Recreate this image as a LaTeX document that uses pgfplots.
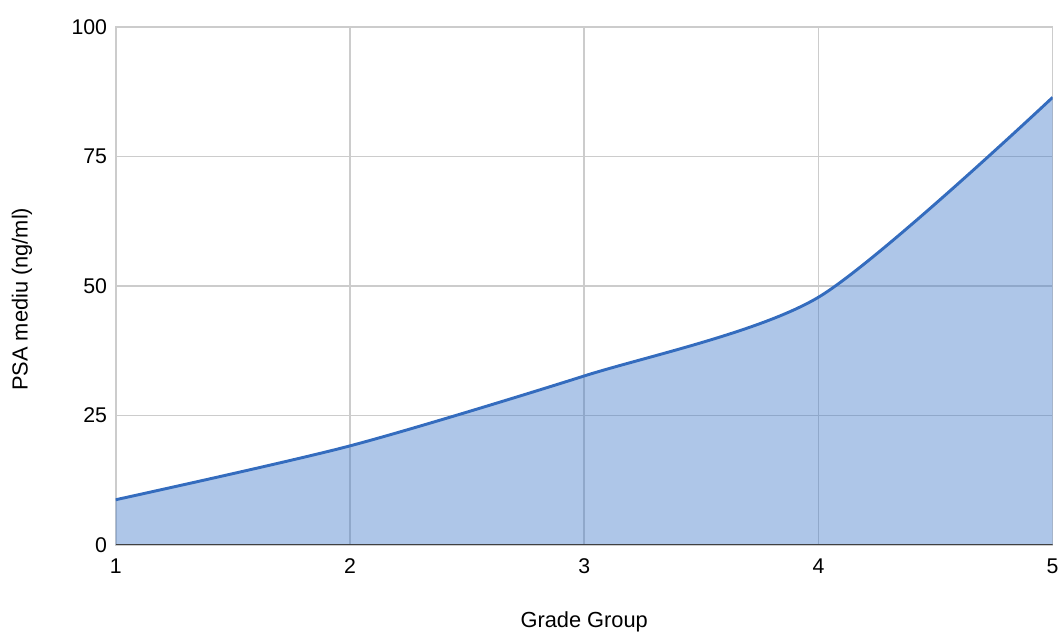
\documentclass[border=0pt]{standalone}
\usepackage{pgfplots}
\pgfplotsset{compat=1.18}
\usepackage{fontspec}
\setmainfont{Liberation Sans}
\definecolor{lineblue}{RGB}{52,108,190}
\definecolor{fillblue}{RGB}{62,120,200}
\definecolor{gridgray}{RGB}{204,204,204}
\begin{document}
\begin{tikzpicture}
\begin{axis}[
  name=ax,
  scale only axis,
  width=704.25pt, height=389.25pt,
  xmin=1, xmax=5, ymin=0, ymax=100,
  xtick={1,2,3,4,5},
  ytick={0,25,50,75,100},
  grid=major,
  major grid style={gridgray, line width=1.2pt},
  axis line style={gridgray, line width=1.2pt},
  major tick length=0pt,
  tick label style={font=\fontsize{16}{18}\selectfont},
  /pgf/number format/assume math mode=true,
  xticklabel style={anchor=base, yshift=-21.5pt},
  yticklabel style={xshift=-3pt},
  xlabel={Grade Group},
  ylabel={PSA mediu (ng/ml)},
  label style={font=\fontsize{16.4}{18}\selectfont},
  xlabel style={at={(axis description cs:0.5,-0.160)}, anchor=base},
  ylabel style={at={(axis description cs:-0.100,0.474)}, anchor=center},
]
\addplot[draw=none, fill=fillblue, fill opacity=0.42, smooth, tension=0.45] coordinates {
  (1,8.7) (2,19.1) (3,32.6) (4,47.8) (5,86.4)
} \closedcycle;
\addplot[lineblue, line width=2.2pt, smooth, tension=0.45] coordinates {
  (1,8.7) (2,19.1) (3,32.6) (4,47.8) (5,86.4)
};
\draw[black!75, line width=1.4pt] (axis cs:1,0) -- (axis cs:5,0);
\end{axis}
\path (ax.south west) ++(-87pt,-65.25pt) rectangle ++(797.25pt,474.75pt);
\end{tikzpicture}
\end{document}
